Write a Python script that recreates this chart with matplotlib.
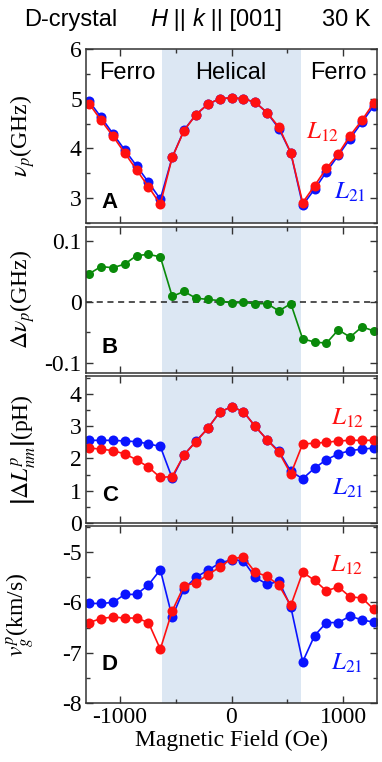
import numpy as np
import matplotlib
matplotlib.use("Agg")
import matplotlib.pyplot as plt
from matplotlib.ticker import MultipleLocator, FuncFormatter

plt.rcParams['font.family'] = ['Liberation Serif', 'DejaVu Serif']
plt.rcParams['mathtext.fontset'] = 'stix'
plt.rcParams['axes.unicode_minus'] = False

# ---------------- data ----------------
field = [-1272, -1166, -1060, -954, -848, -742, -636, -530, -424, -318, -212, -106, 0,
         106, 212, 318, 424, 530, 636, 742, 848, 954, 1060, 1166, 1272]

nu_L12 = [4.90, 4.57, 4.25, 3.91, 3.57, 3.23, 2.88, 3.82, 4.36, 4.68, 4.89, 5.00, 5.02,
          5.00, 4.93, 4.72, 4.43, 3.91, 2.91, 3.25, 3.60, 3.89, 4.26, 4.57, 4.92]
nu_L21 = [4.95, 4.63, 4.30, 3.97, 3.65, 3.32, 2.98, 3.82, 4.37, 4.68, 4.89, 5.00, 5.02,
          5.00, 4.93, 4.72, 4.40, 3.91, 2.86, 3.18, 3.53, 3.86, 4.20, 4.53, 4.86]

dnu = [0.046, 0.058, 0.056, 0.062, 0.076, 0.078, 0.074, 0.009, 0.017, 0.006, 0.004, 0.002,
       -0.002, -0.001, -0.003, -0.003, -0.015, -0.003, -0.061, -0.066, -0.068, -0.046,
       -0.058, -0.041, -0.048]

dL_L21 = [2.56, 2.56, 2.56, 2.54, 2.52, 2.45, 2.37, 1.39, 2.11, 2.53, 2.93, 3.43, 3.60,
          3.45, 2.99, 2.58, 2.22, 1.60, 1.37, 1.70, 1.96, 2.14, 2.24, 2.29, 2.32]
dL_L12 = [2.32, 2.29, 2.24, 2.14, 1.96, 1.73, 1.41, 1.44, 2.11, 2.52, 2.93, 3.43, 3.60,
          3.45, 2.99, 2.58, 2.19, 1.52, 2.45, 2.47, 2.50, 2.54, 2.56, 2.56, 2.56]

vg_L21 = [-6.02, -6.02, -6.00, -5.84, -5.84, -5.65, -5.35, -6.29, -5.73, -5.50, -5.36, -5.22,
          -5.15, -5.17, -5.50, -5.64, -5.58, -6.09, -7.18, -6.66, -6.40, -6.40, -6.27, -6.35, -6.39]
vg_L12 = [-6.40, -6.32, -6.29, -6.31, -6.31, -6.40, -6.93, -6.17, -5.67, -5.61, -5.45, -5.30,
          -5.13, -5.10, -5.40, -5.48, -5.66, -6.06, -5.40, -5.56, -5.77, -5.69, -5.89, -5.91, -6.14]

helical_range = (-618, 618)
xticks = [-1000, 0, 1000]

# ---------------- style ----------------
RED = '#ff1010'
BLUE = '#0a14ff'
GREEN = '#0a8a0a'
SHADE = '#dce7f3'
SPINE = '#333333'

fig = plt.figure(figsize=(3.82, 7.62), dpi=100)
L, W = 86 / 382, 291 / 382
rects = [(0.7073, 0.2283), (0.5105, 0.1916), (0.3136, 0.1929), (0.0774, 0.2323)]
axes = [fig.add_axes([L, b, W, h]) for b, h in rects]

fmt = FuncFormatter(lambda v, p: ('%g' % round(v, 6)))
for ax in axes:
    ax.set_xlim(-1300, 1300)
    ax.axvspan(*helical_range, color=SHADE, lw=0, zorder=0)
    ax.xaxis.set_major_locator(plt.FixedLocator(xticks))
    ax.xaxis.set_minor_locator(MultipleLocator(500))
    ax.tick_params(which='both', direction='in', top=True, right=True, width=1.0,
                   color=SPINE, labelsize=17, pad=3)
    ax.tick_params(which='major', length=5)
    ax.tick_params(which='minor', length=3)
    for s in ax.spines.values():
        s.set_linewidth(1.1)
        s.set_color(SPINE)
    ax.yaxis.set_major_formatter(fmt)
    if ax is not axes[-1]:
        ax.tick_params(labelbottom=False)

mk = dict(marker='o', ms=7.2, lw=1.2, mec='none')
YL = 17

# Panel A
ax = axes[0]
ax.plot(field, nu_L21, color=BLUE, **mk)
ax.plot(field, nu_L12, color=RED, **mk)
ax.set_ylim(2.5, 6)
ax.yaxis.set_major_locator(MultipleLocator(1))
ax.yaxis.set_minor_locator(MultipleLocator(0.5))
ax.set_ylabel(r'$\nu_p$(GHz)', fontsize=YL)
sans = dict(family=['Liberation Sans', 'DejaVu Sans'], fontsize=17)
ax.text(0.141, 0.862, 'Ferro', transform=ax.transAxes, ha='center', va='center', **sans)
ax.text(0.498, 0.862, 'Helical', transform=ax.transAxes, ha='center', va='center', **sans)
ax.text(0.866, 0.862, 'Ferro', transform=ax.transAxes, ha='center', va='center', **sans)
ax.text(0.814, 0.523, r'$L_{12}$', color=RED, transform=ax.transAxes, ha='center', va='center', fontsize=18)
ax.text(0.907, 0.178, r'$L_{21}$', color=BLUE, transform=ax.transAxes, ha='center', va='center', fontsize=18)

# Panel B
ax = axes[1]
ax.axhline(0, color='#222222', lw=1.1, ls=(0, (4, 3)), zorder=1)
ax.plot(field, dnu, color=GREEN, marker='o', ms=6.5, lw=1.2, mec='none')
ax.set_ylim(-0.117, 0.123)
ax.yaxis.set_major_locator(MultipleLocator(0.1))
ax.yaxis.set_minor_locator(MultipleLocator(0.05))
ax.set_ylabel(r'$\Delta\nu_p$(GHz)', fontsize=YL)

# Panel C
ax = axes[2]
ax.plot(field, dL_L21, color=BLUE, **mk)
ax.plot(field, dL_L12, color=RED, **mk)
ax.set_ylim(0, 4.55)
ax.yaxis.set_major_locator(MultipleLocator(1))
ax.yaxis.set_minor_locator(MultipleLocator(0.5))
ax.set_ylabel(r'$\left|\Delta L^p_{nm}\right|$(pH)', fontsize=YL)
ax.text(0.90, 0.714, r'$L_{12}$', color=RED, transform=ax.transAxes, ha='center', va='center', fontsize=18)
ax.text(0.90, 0.238, r'$L_{21}$', color=BLUE, transform=ax.transAxes, ha='center', va='center', fontsize=18)

# Panel D
ax = axes[3]
ax.plot(field, vg_L21, color=BLUE, **mk)
ax.plot(field, vg_L12, color=RED, **mk)
ax.set_ylim(-8, -4.48)
ax.yaxis.set_major_locator(MultipleLocator(1))
ax.yaxis.set_minor_locator(MultipleLocator(0.5))
ax.set_ylabel(r'$v^p_g$(km/s)', fontsize=YL)
ax.text(0.897, 0.78, r'$L_{12}$', color=RED, transform=ax.transAxes, ha='center', va='center', fontsize=18)
ax.text(0.897, 0.226, r'$L_{21}$', color=BLUE, transform=ax.transAxes, ha='center', va='center', fontsize=18)
ax.set_xlabel('Magnetic Field (Oe)', fontsize=17, labelpad=1)
ax.xaxis.set_major_formatter(FuncFormatter(lambda v, p: '%d' % v))

# panel letters
for ax, lab, y in zip(axes, 'ABCD', [0.12, 0.178, 0.19, 0.215]):
    ax.text(0.082, y, lab, transform=ax.transAxes, ha='center', va='center',
            family=['Liberation Sans', 'DejaVu Sans'], fontweight='bold', fontsize=16)

# y label positions
for ax in axes:
    ax.yaxis.set_label_coords(-0.17, 0.5)

# title line
fig.text(0.063, 0.974, 'D-crystal', ha='left', va='center', **sans)
fig.canvas.draw()
r = fig.canvas.get_renderer()
pieces = [('H', 'italic'), (' || ', 'normal'), ('k', 'italic'), (' || [001]', 'normal')]
x0 = 150
for s, st in pieces:
    t = fig.text(x0 / 382, 0.974, s, ha='left', va='center', style=st, **sans)
    bb = t.get_window_extent(r)
    x0 = bb.x1
fig.text(322 / 382, 0.974, '30 K', ha='left', va='center', **sans)

fig.savefig('out.png', dpi=100)
